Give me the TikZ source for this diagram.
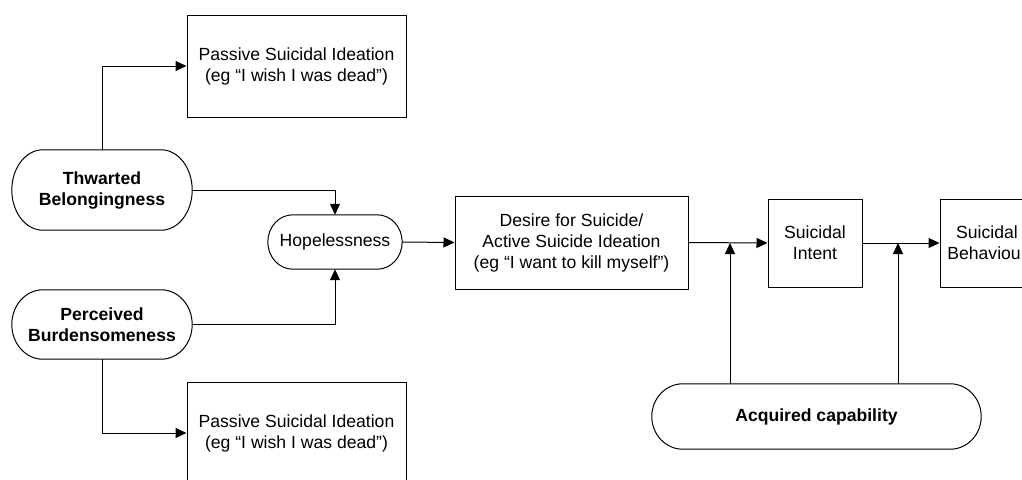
\documentclass[tikz,border=0pt]{standalone}
\usepackage{fontspec}
\setmainfont{Liberation Sans}
\usetikzlibrary{arrows.meta,calc}

% outline with half-elliptical ends around a node: #1 node name, #2 horizontal radius (pt)
\newcommand\pilloutline[2]{%
  \draw[line width=1pt]
    let \p1=(#1.north west), \p2=(#1.south east), \n1={(\y1-\y2)/2} in
    (\x1+#2pt,\y1) -- (\x2-#2pt,\y1)
    arc[start angle=90,end angle=-90,x radius=#2pt,y radius=\n1]
    -- (\x1+#2pt,\y2)
    arc[start angle=270,end angle=90,x radius=#2pt,y radius=\n1]
    -- cycle;}

\begin{document}
\begin{tikzpicture}[x=1pt,y=-1pt,
  every node/.style={font=\fontsize{17.6}{21}\selectfont, align=center, inner sep=0pt},
  box/.style={draw, line width=1pt, rectangle},
  pill/.style={draw=none},
  arr/.style={line width=1pt, -{Triangle[length=11pt,width=10pt]}},
  link/.style={line width=1pt}]
\useasboundingbox (0,0) rectangle (1022,479);
\clip (0,0) rectangle (1022,479);

% left-hand constructs
\node[pill, minimum width=180pt, minimum height=80pt, font=\bfseries\fontsize{17.6}{21}\selectfont] (tb) at (102,190) {Thwarted\\Belongingness};
\node[pill, minimum width=180pt, minimum height=69pt, font=\bfseries\fontsize{17.6}{21}\selectfont] (pb) at (102,324.5) {Perceived\\Burdensomeness};
\pilloutline{tb}{31}
\pilloutline{pb}{31}

% passive ideation boxes
\node[box, minimum width=219pt, minimum height=102pt] (p1) at (296.5,66) {Passive Suicidal Ideation\\(eg “I wish I was dead”)};
\node[box, minimum width=219pt, minimum height=102pt] (p2) at (296.5,433) {Passive Suicidal Ideation\\(eg “I wish I was dead”)};

% hopelessness
\node[pill, minimum width=134pt, minimum height=54pt] (hp) at (335,242) {Hopelessness};
\pilloutline{hp}{25}

% main chain
\node[box, minimum width=233pt, minimum height=93pt] (ds) at (571.5,242.5) {Desire for Suicide/\\Active Suicide Ideation\\(eg “I want to kill myself”)};
\node[box, minimum width=94pt, minimum height=88pt] (si) at (815,243) {Suicidal\\Intent};
\node[box, minimum width=94pt, minimum height=88pt] (sb) at (987,243) {Suicidal\\Behaviour};

% acquired capability
\node[pill, minimum width=329pt, minimum height=65pt, font=\bfseries\fontsize{17.6}{21}\selectfont] (ac) at (816.5,416.5) {Acquired capability};
\pilloutline{ac}{31}

% junctions on the main chain
\coordinate (j1) at (730,243);
\coordinate (j2) at (898,243);

% connectors
\draw[arr] (tb.north) |- (p1.west);
\draw[arr] (pb.south) |- (p2.west);
\draw[arr] (tb.east) -| (hp.north);
\draw[arr] (pb.east) -| (hp.south);
\draw[arr] (hp.east) -- (ds.west);
\draw[arr] (ds.east) -- (si.west);
\draw[arr] (si.east) -- (sb.west);
\draw[arr] (ac.north -| j1) -- (j1);
\draw[arr] (ac.north -| j2) -- (j2);
\end{tikzpicture}
\end{document}
